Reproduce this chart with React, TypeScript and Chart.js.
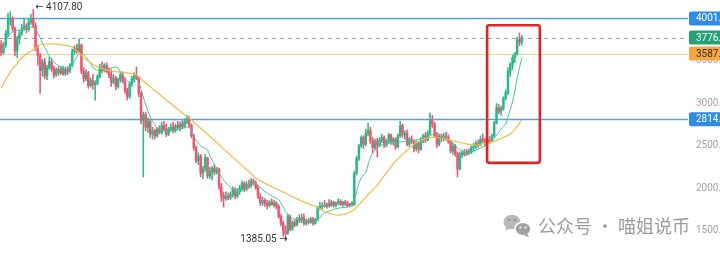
import React, { useEffect, useRef } from 'react';
import { Chart, registerables } from 'chart.js';

Chart.register(...registerables);

// ---- Daily candles ----
const OPEN = [3700,3600,3690,3820,3980,4000,3880,3620,3760,3830,
3880,3910,3870,3960,3990,3920,3640,3560,3390,3490,
3320,3420,3490,3410,3340,3400,3360,3410,3350,3400,
3380,3450,3610,3650,3620,3690,3380,3290,3360,3210,
3270,3220,3240,3320,3420,3390,3450,3380,3340,3250,
3300,3200,3280,3340,3260,3150,3080,3230,3290,3330,
3300,3120,2800,2870,2720,2790,2640,2680,2620,2700,
2660,2740,2700,2640,2700,2720,2680,2740,2720,2760,
2730,2790,2820,2740,2620,2480,2330,2380,2180,2230,
2360,2150,2200,2240,2190,2230,2020,1920,1880,1910,
1890,1930,1990,1910,1960,2000,2060,1990,2050,2030,
2090,2070,2010,1900,1830,1860,1820,1800,1840,1810,
1830,1790,1670,1590,1500,1470,1670,1520,1600,1570,
1640,1620,1660,1590,1620,1600,1640,1590,1630,1770,
1790,1800,1790,1820,1800,1840,1800,1830,1850,1810,
1840,1820,1800,1820,1810,2180,2350,2500,2600,2520,
2650,2680,2560,2480,2550,2510,2570,2600,2510,2560,
2630,2550,2580,2490,2620,2740,2630,2650,2520,2580,
2560,2470,2530,2460,2570,2620,2570,2650,2800,2760,
2620,2520,2610,2590,2620,2600,2550,2440,2500,2410,
2230,2400,2420,2400,2440,2420,2480,2500,2530,2510,
2580,2560,2530,2570,2560,2620,2770,2950,2910,2940,
3060,3130,3380,3460,3540,3590,3750,3720];

const HIGH = [3740,3720,3860,4060,4080,4020,3900,3790,3860,3930,
4000,3940,4000,4050,4107.8,3950,3680,3590,3520,3530,
3450,3550,3530,3440,3420,3440,3430,3440,3420,3430,
3470,3640,3680,3700,3760,3700,3420,3400,3380,3300,
3340,3270,3340,3460,3490,3470,3480,3420,3400,3340,
3320,3300,3380,3370,3300,3180,3250,3320,3360,3430,
3320,3140,2900,2900,2830,2800,2720,2700,2720,2740,
2780,2790,2760,2720,2760,2780,2760,2790,2780,2800,
2820,2860,2850,2760,2640,2500,2420,2400,2260,2400,
2370,2250,2260,2280,2250,2240,2060,1960,1960,1950,
1960,2020,2010,2000,2040,2090,2080,2080,2100,2120,
2110,2090,2040,1940,1900,1880,1860,1860,1880,1860,
1850,1810,1700,1620,1560,1700,1690,1620,1630,1660,
1690,1700,1700,1640,1650,1660,1660,1650,1790,1840,
1830,1860,1830,1870,1860,1850,1840,1880,1870,1850,
1860,1850,1830,1850,2200,2380,2520,2620,2620,2700,
2770,2720,2600,2580,2590,2600,2640,2620,2580,2650,
2640,2600,2600,2640,2790,2760,2680,2690,2600,2620,
2570,2560,2550,2600,2640,2660,2680,2890,2860,2780,
2660,2640,2640,2650,2660,2630,2560,2530,2520,2430,
2430,2440,2460,2460,2470,2500,2530,2560,2570,2620,
2640,2590,2600,2610,2640,2790,3000,2990,2970,3080,
3160,3420,3480,3570,3600,3780,3830,3800];

const LOW = [3560,3580,3660,3790,3920,3850,3560,3540,3700,3800,
3860,3830,3850,3930,3890,3620,3450,3120,3320,3290,
3280,3400,3380,3300,3320,3330,3340,3330,3330,3340,
3360,3430,3580,3590,3600,3350,3250,3270,3180,3190,
3170,3040,3220,3300,3360,3370,3360,3300,3200,3230,
3160,3180,3250,3240,3120,3040,3060,3200,3250,3280,
3080,2760,2135,2680,2660,2600,2580,2580,2600,2640,
2640,2680,2610,2620,2680,2650,2660,2700,2680,2700,
2710,2760,2720,2600,2450,2300,2280,2140,2120,2200,
2120,2120,2100,2160,2170,1990,1850,1780,1860,1870,
1870,1900,1880,1890,1930,1980,1960,1970,2000,2010,
2040,1990,1880,1800,1800,1790,1760,1780,1800,1780,
1760,1650,1560,1440,1385.05,1460,1500,1510,1550,1560,
1600,1600,1570,1570,1580,1590,1570,1580,1620,1750,
1760,1780,1770,1780,1790,1780,1780,1810,1800,1790,
1800,1780,1780,1790,1800,2160,2330,2480,2470,2500,
2620,2530,2420,2460,2370,2490,2540,2480,2490,2540,
2520,2510,2460,2480,2600,2600,2580,2500,2490,2530,
2430,2440,2420,2450,2540,2540,2560,2630,2720,2600,
2480,2500,2550,2560,2570,2530,2420,2400,2380,2135,
2220,2360,2380,2390,2400,2410,2440,2470,2480,2500,
2540,2500,2510,2530,2550,2600,2760,2880,2860,2920,
3040,3100,3320,3400,3480,3570,3680,3690];

const CLOSE = [3600,3690,3820,3980,4000,3880,3620,3760,3830,3880,
3910,3870,3960,4000,3920,3640,3560,3390,3490,3320,
3420,3490,3410,3340,3400,3360,3410,3350,3400,3380,
3450,3610,3650,3620,3690,3380,3290,3360,3210,3270,
3220,3240,3320,3420,3390,3450,3380,3340,3250,3300,
3200,3280,3340,3260,3150,3080,3230,3290,3330,3300,
3120,2800,2870,2720,2790,2640,2680,2620,2700,2660,
2740,2700,2640,2700,2720,2680,2740,2720,2760,2730,
2790,2820,2740,2620,2480,2330,2380,2180,2230,2360,
2150,2200,2240,2190,2230,2020,1920,1880,1910,1890,
1930,1990,1910,1960,2000,2060,1990,2050,2030,2090,
2070,2010,1900,1830,1860,1820,1800,1840,1810,1830,
1790,1670,1590,1500,1470,1670,1520,1600,1570,1640,
1620,1660,1590,1620,1600,1640,1590,1630,1770,1790,
1800,1790,1820,1800,1840,1800,1830,1850,1810,1840,
1820,1800,1820,1810,2180,2350,2500,2600,2520,2650,
2680,2560,2480,2550,2510,2570,2600,2510,2560,2630,
2550,2580,2490,2620,2740,2630,2650,2520,2580,2560,
2470,2530,2460,2570,2620,2570,2650,2800,2760,2620,
2520,2610,2590,2620,2600,2550,2440,2500,2410,2230,
2400,2420,2400,2440,2420,2480,2500,2530,2510,2580,
2560,2530,2570,2560,2620,2770,2950,2910,2940,3060,
3130,3380,3460,3540,3590,3750,3720,3776.05];

// ---- Moving averages ----
const MA_FAST = [3629,3680,3730,3780,3829,3840,3850,3858,3865,3872,3880,3888,3895,3900,3895,
3880,3830,3775,3712,3660,3610,3560,3520,
3490,3465,3445,3435,3429,3425,3425,3429,
3460,3500,3545,3585,3594,3575,3550,
3510,3470,3430,3400,3390,3385,3385,3390,3394,
3405,3418,3425,3430,3420,3371,
3340,3300,3270,3253,3265,3290,3312,
3250,3170,3076,2990,2910,2841,2790,2750,2715,2688,
2680,2675,2672,2670,2672,2675,2680,2690,2700,2710,2718,2724,
2715,2680,2606,2570,2530,2505,2488,2470,2453,2390,2330,
2280,2230,2180,2140,2100,2065,2035,2010,1990,1975,1965,1959,
1970,1990,2010,2035,2055,2065,2060,2040,2010,1985,1965,1947,
1930,1915,1900,1885,1870,1830,1780,1730,1695,1665,
1650,1640,1635,1629,1622,1615,1610,1606,1605,1605,1606,1629,
1660,1690,1710,1724,1735,1745,1755,1762,1768,1772,1776,1779,1782,1795,1818,
1870,1960,2060,2120,2160,2182,2280,2360,2418,2450,2475,2495,2512,
2518,2524,2530,2535,2538,2541,2544,2547,2550,2553,2556,2560,2565,2568,2571,2578,2585,2592,2599,2606,
2620,2635,2648,2653,2640,2625,2610,2594,2580,2560,2535,2505,2476,
2460,2445,2430,2418,2420,2428,2440,2450,2460,2475,2490,2500,2512,2535,
2560,2590,2629,2660,2700,2730,2760,2840,2930,3018,3150,3290,3420,3535];

const MA_SLOW = [3180,3230,3280,3330,3370,3410,3440,3470,3510,3540,3560,3580,3600,3615,3630,
3650,3670,3690,3695,3700,3700,3702,3703,3700,
3698,3695,3690,3688,3684,3680,3672,3665,
3645,3620,3594,3570,3545,3520,3500,3480,3460,3445,3430,3418,
3410,3402,3395,3390,3385,3380,3376,3373,3371,3368,3364,3360,3355,3350,3342,3335,
3315,3290,3265,3242,3220,3196,3174,3152,3130,3108,3085,3063,3041,3020,2998,2976,2955,2932,2910,2888,2865,2850,
2830,2805,2780,2756,2732,2710,2686,2662,2637,2612,2588,2564,2540,2515,2490,2466,2442,2418,2393,2368,2344,2320,2296,2271,2246,2222,2198,2173,2148,2124,
2105,2090,2075,2062,2048,2035,2022,2008,1995,1982,1970,1958,1945,1932,1918,1905,1892,1878,1865,
1853,1842,1830,1820,1810,1800,1790,1782,1765,1748,1732,1718,1707,1700,1694,1690,1688,1688,
1692,1698,1708,1720,1735,1755,1780,1808,1838,1868,1898,1928,1955,1982,
2010,2040,2072,2110,2148,2185,2220,2255,2290,2322,2350,2375,2400,2425,2450,2472,2495,2520,2540,
2555,2568,2578,2587,2594,2598,2600,2601,2600,2597,2593,2588,2582,2575,2568,2561,2554,2547,
2541,2535,2529,2523,2518,2514,2512,2512,2514,2518,2524,2530,2535,2538,
2545,2555,2566,2578,2590,2602,2612,2628,2645,2665,2695,2730,2770,2806];

// ---- Axis / annotations ----
const SLOT_COUNT = 300; // time slots on the x axis (candles + empty future area)
const SLOT_LABELS = Array.from({ length: SLOT_COUNT }, (_, i) => String(i));
const Y_MIN = 1217.6;
const Y_MAX = 4217.6;
const Y_TICKS = [1500, 2000, 2500, 3000, 3500, 4000];
const LEVEL_VALUES = [4001.0, 3776.05, 3587.37, 2814.0];
const LEVEL_TEXTS = ['4001.00', '3776.05', '3587.37', '2814.00'];
const HIGH_INDEX = 14;
const HIGH_VALUE = 4107.8;
const LOW_INDEX = 124;
const LOW_VALUE = 1385.05;
const BOX_INDEX_RANGE = [211.9, 234.9];
const BOX_VALUE_RANGE = [2302, 3921];
const WATERMARK = '公众号 · 喵姐说币';

const GREEN = '#2bb787';
const RED = '#f0546f';

const LEVEL_STYLE = [
  { line: '#5b9fe2', width: 1.4, dash: [] as number[], box: '#2f8ae8', text: '#ffffff' },
  { line: '#93aaa3', width: 1, dash: [4, 4], box: '#23a275', text: '#ffffff' },
  { line: '#f6d08f', width: 1, dash: [] as number[], box: '#f4a841', text: '#3a2a12' },
  { line: '#5b9fe2', width: 1.4, dash: [] as number[], box: '#2f8ae8', text: '#ffffff' },
];

function drawWeChat(ctx: CanvasRenderingContext2D, cx: number, cy: number) {
  ctx.save();
  ctx.fillStyle = '#b9b9b9';
  ctx.beginPath();
  ctx.ellipse(cx, cy, 8.5, 7.3, 0, 0, Math.PI * 2);
  ctx.fill();
  ctx.beginPath();
  ctx.moveTo(cx - 5, cy + 4);
  ctx.lineTo(cx - 7, cy + 9);
  ctx.lineTo(cx - 1, cy + 6);
  ctx.fill();
  ctx.fillStyle = '#8e8e8e';
  ctx.beginPath();
  ctx.arc(cx - 3, cy - 2, 1.2, 0, Math.PI * 2);
  ctx.arc(cx + 3, cy - 2, 1.2, 0, Math.PI * 2);
  ctx.fill();
  const sx = cx + 11;
  const sy = cy + 7;
  ctx.fillStyle = '#a2a2a2';
  ctx.strokeStyle = '#ffffff';
  ctx.lineWidth = 1.5;
  ctx.beginPath();
  ctx.ellipse(sx, sy, 8, 6.8, 0, 0, Math.PI * 2);
  ctx.fill();
  ctx.stroke();
  ctx.beginPath();
  ctx.moveTo(sx + 4, sy + 4);
  ctx.lineTo(sx + 6, sy + 8.5);
  ctx.lineTo(sx + 1, sy + 6);
  ctx.fill();
  ctx.fillStyle = '#ffffff';
  ctx.beginPath();
  ctx.arc(sx - 2.6, sy - 1.5, 1.1, 0, Math.PI * 2);
  ctx.arc(sx + 2.6, sy - 1.5, 1.1, 0, Math.PI * 2);
  ctx.fill();
  ctx.restore();
}

const overlayPlugin = {
  id: 'overlay',
  beforeDatasetsDraw(chart: any) {
    const { ctx, chartArea, scales } = chart;
    const y = scales.y;
    ctx.save();
    LEVEL_VALUES.forEach((v, i) => {
      const st = LEVEL_STYLE[i];
      const py = Math.round(y.getPixelForValue(v)) + 0.5;
      ctx.strokeStyle = st.line;
      ctx.lineWidth = st.width;
      ctx.setLineDash(st.dash);
      ctx.beginPath();
      ctx.moveTo(chartArea.left, py);
      ctx.lineTo(chartArea.right, py);
      ctx.stroke();
    });
    ctx.restore();
  },
  afterDatasetsDraw(chart: any) {
    const { ctx, chartArea, scales } = chart;
    const x = scales.x;
    const y = scales.y;
    ctx.save();
    // red highlight box
    const l = x.getPixelForValue(BOX_INDEX_RANGE[0]);
    const r = x.getPixelForValue(BOX_INDEX_RANGE[1]);
    const t = y.getPixelForValue(BOX_VALUE_RANGE[1]);
    const b = y.getPixelForValue(BOX_VALUE_RANGE[0]);
    ctx.strokeStyle = '#e02424';
    ctx.lineWidth = 2.6;
    ctx.beginPath();
    ctx.roundRect(l, t, r - l, b - t, 2);
    ctx.stroke();

    // high / low callouts
    ctx.font = '10px Roboto, "DejaVu Sans", sans-serif';
    ctx.fillStyle = '#333333';
    ctx.textBaseline = 'middle';
    ctx.textAlign = 'left';
    ctx.fillText('← ' + HIGH_VALUE.toFixed(2), x.getPixelForValue(HIGH_INDEX) + 2, y.getPixelForValue(HIGH_VALUE) - 1.5);
    ctx.textAlign = 'right';
    ctx.fillText(LOW_VALUE.toFixed(2) + ' →', x.getPixelForValue(LOW_INDEX) + 2, y.getPixelForValue(LOW_VALUE) - 1.5);

    // watermark
    ctx.font = '18px "Noto Sans CJK SC", sans-serif';
    ctx.fillStyle = '#9c9c9c';
    ctx.textAlign = 'right';
    ctx.textBaseline = 'middle';
    const wx = chartArea.right + 2;
    const wy = chartArea.bottom - 29;
    const w = ctx.measureText(WATERMARK).width;
    ctx.fillText(WATERMARK, wx, wy);
    drawWeChat(ctx, wx - w - 26, wy - 4);
    ctx.restore();
  },
  afterDraw(chart: any) {
    const { ctx, chartArea, scales, width } = chart;
    const y = scales.y;
    ctx.save();
    ctx.font = '10px Roboto, "DejaVu Sans", sans-serif';
    ctx.textBaseline = 'middle';
    ctx.textAlign = 'left';
    LEVEL_VALUES.forEach((v, i) => {
      const st = LEVEL_STYLE[i];
      const py = y.getPixelForValue(v);
      ctx.fillStyle = st.box;
      ctx.beginPath();
      ctx.roundRect(chartArea.right + 1, py - 7, width - chartArea.right, 14, 2);
      ctx.fill();
      ctx.fillStyle = st.text;
      ctx.fillText(LEVEL_TEXTS[i], chartArea.right + 8, py + 0.5);
    });
    ctx.restore();
  },
};

export default function App() {
  const canvasRef = useRef<HTMLCanvasElement | null>(null);

  useEffect(() => {
    document.body.style.margin = '0';
    document.documentElement.style.overflow = 'hidden';
    const canvas = canvasRef.current;
    if (!canvas) return;

    const colors = OPEN.map((o, i) => (CLOSE[i] >= o ? GREEN : RED));
    const bodies = OPEN.map((o, i) => [o, CLOSE[i]]);
    const wicks = LOW.map((lo, i) => [lo, HIGH[i]]);

    const chart = new Chart(canvas, {
      type: 'bar',
      data: {
        labels: SLOT_LABELS,
        datasets: [
          {
            type: 'line',
            data: MA_SLOW,
            borderColor: '#f0bc48',
            borderWidth: 1.2,
            pointRadius: 0,
            tension: 0.3,
            order: 0,
          } as any,
          {
            type: 'line',
            data: MA_FAST,
            borderColor: '#46c3a2',
            borderWidth: 1,
            pointRadius: 0,
            tension: 0.3,
            order: 1,
          } as any,
          {
            type: 'bar',
            data: bodies,
            backgroundColor: colors,
            barThickness: 1.8,
            minBarLength: 1,
            grouped: false,
            order: 2,
          } as any,
          {
            type: 'bar',
            data: wicks,
            backgroundColor: colors,
            barThickness: 0.9,
            grouped: false,
            order: 3,
          } as any,
        ],
      },
      options: {
        animation: false,
        responsive: false,
        events: [],
        layout: { padding: 0 },
        plugins: { legend: { display: false }, tooltip: { enabled: false } },
        scales: {
          x: { display: false, offset: true, grid: { display: false } },
          y: {
            position: 'right',
            min: Y_MIN,
            max: Y_MAX,
            grid: { display: false, drawTicks: false },
            border: { display: false },
            ticks: {
              padding: 8,
              color: '#a3a3a3',
              font: { size: 10, family: 'Roboto, "DejaVu Sans", sans-serif' },
              callback: (v: any) => Number(v).toFixed(2),
            },
            afterBuildTicks: (s: any) => {
              s.ticks = Y_TICKS.map((v) => ({ value: v }));
            },
            afterFit: (s: any) => {
              s.width = 52;
              s.paddingTop = 0;
              s.paddingBottom = 0;
            },
          } as any,
        },
      },
      plugins: [overlayPlugin],
    });

    return () => chart.destroy();
  }, []);

  return (
    <div style={{ width: 720, height: 255, overflow: 'hidden', position: 'relative', background: '#fff' }}>
      <canvas ref={canvasRef} width={740} height={255} style={{ display: 'block' }} />
    </div>
  );
}
